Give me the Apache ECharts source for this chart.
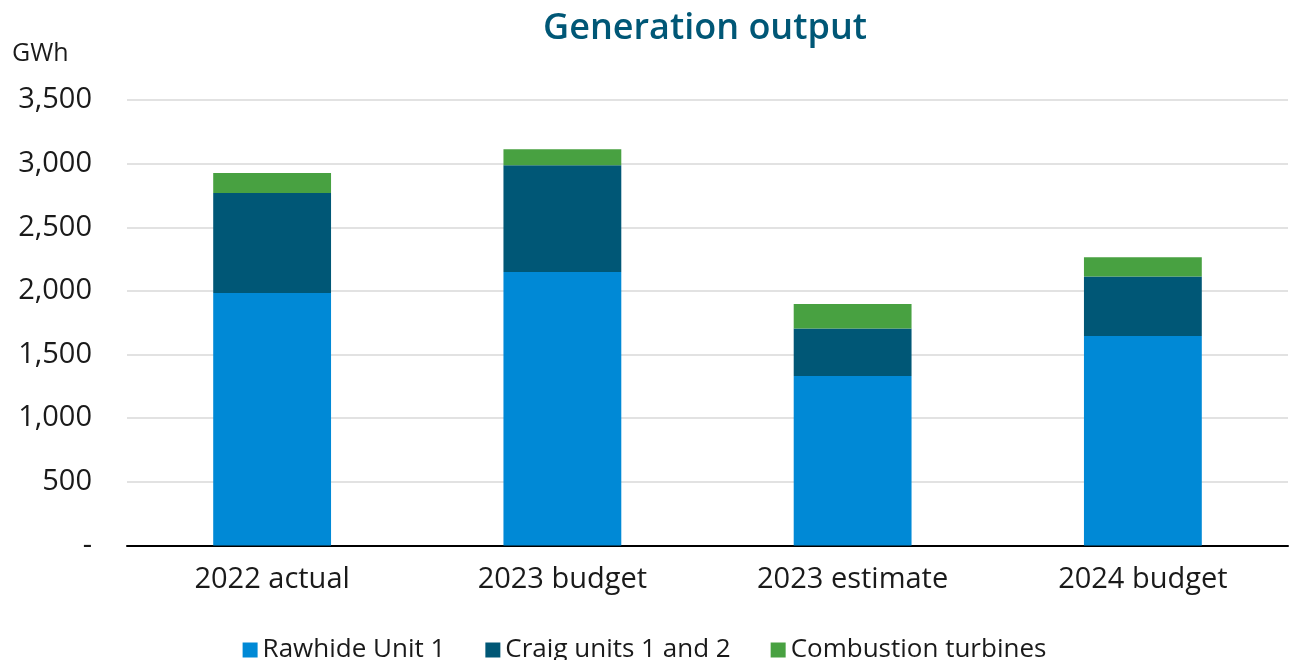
<!DOCTYPE html>
<html>
<head>
<meta charset="utf-8">
<script src="https://cdn.jsdelivr.net/npm/echarts@6/dist/echarts.min.js"></script>
<style>
  html, body { margin: 0; padding: 0; background: #fff; }
  #chart { width: 1289px; height: 660px; }
</style>
</head>
<body>
<div id="chart"></div>
<script>
const categories = ['2022 actual', '2023 budget', '2023 estimate', '2024 budget'];
const rawhide = [1984, 2149, 1331, 1645];
const craig = [786, 838, 374, 469];
const turbines = [157, 126, 192, 150];

const chart = echarts.init(document.getElementById('chart'));
const font = '"Open Sans", Lato, sans-serif';

const barSeries = (name, data, color) => ({
  name: name,
  type: 'bar',
  stack: 'total',
  data: data,
  barWidth: '40.6%',
  itemStyle: { color: color },
  emphasis: { disabled: true }
});

chart.setOption({
  animation: false,
  textStyle: { fontFamily: font },
  title: {
    text: 'Generation output',
    left: 700,
    top: 6,
    textAlign: 'center',
    textStyle: { fontSize: 36, fontWeight: 600, color: '#005776', fontFamily: font }
  },
  legend: {
    bottom: -8,
    left: 'center',
    itemWidth: 15,
    itemHeight: 15,
    itemGap: 40,
    icon: 'rect',
    textStyle: { fontSize: 26, color: '#1a1a1a', fontFamily: font, padding: [0, 0, 0, 0] },
    data: ['Rawhide Unit 1', 'Craig units 1 and 2', 'Combustion turbines']
  },
  grid: { left: 127, right: 1, top: 100, bottom: 114.5 },
  xAxis: {
    type: 'category',
    data: categories,
    axisTick: { show: false },
    axisLine: { lineStyle: { color: '#000', width: 2 } },
    axisLabel: { fontSize: 29, color: '#1a1a1a', margin: 20 }
  },
  yAxis: {
    type: 'value',
    name: 'GWh',
    nameLocation: 'end',
    nameGap: 0,
    nameTextStyle: { fontSize: 25, color: '#1a1a1a', align: 'left', padding: [0, 0, 34, -115] },
    min: 0,
    max: 3500,
    interval: 500,
    axisLine: { show: false },
    axisTick: { show: false },
    splitLine: { lineStyle: { color: '#d9d9d9', width: 1.5 } },
    axisLabel: {
      fontSize: 29,
      color: '#1a1a1a',
      margin: 35,
      formatter: v => v === 0 ? '-' : v.toLocaleString('en-US')
    }
  },
  series: [
    barSeries('Rawhide Unit 1', rawhide, '#0089d6'),
    barSeries('Craig units 1 and 2', craig, '#005776'),
    barSeries('Combustion turbines', turbines, '#48a141')
  ]
});
</script>
</body>
</html>
